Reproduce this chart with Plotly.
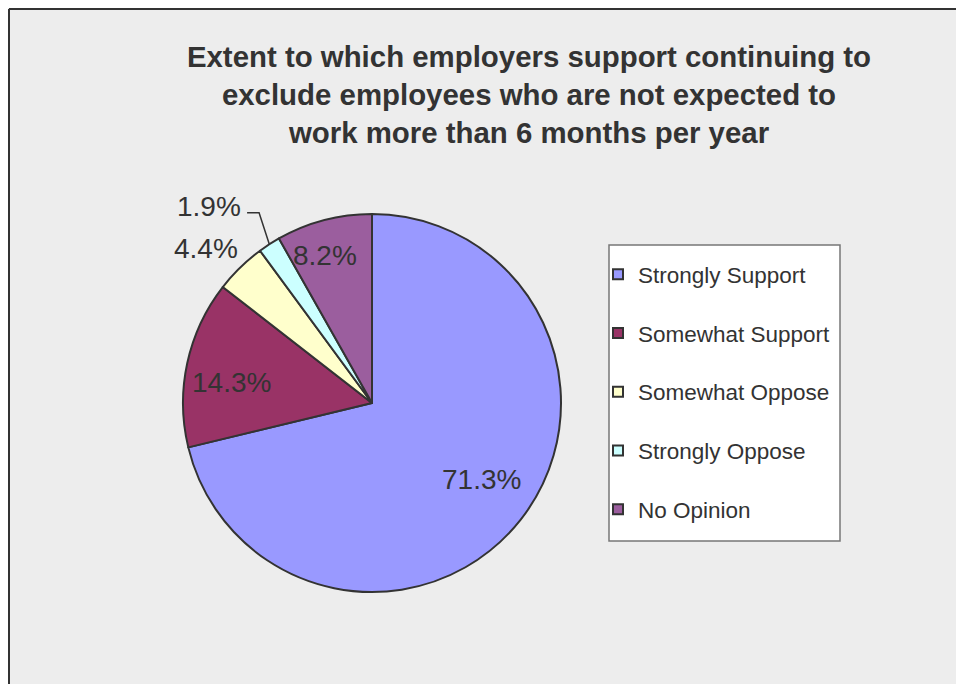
import math
import plotly.graph_objects as go

categories = ["Strongly Support", "Somewhat Support", "Somewhat Oppose", "Strongly Oppose", "No Opinion"]
values = [71.3, 14.3, 4.4, 1.9, 8.2]
colors = ["#9999FF", "#993366", "#FFFFCC", "#CCFFFF", "#9B5E9E"]
title_text = "Extent to which employers support continuing to<br>exclude employees who are not expected to<br>work more than 6 months per year"

# style: label distance from centre (fraction of radius) and angular nudge (deg) per slice
label_k = [0.706, 0.75, 1.20, 1.17, 0.82]
label_dtheta = [-3.0, -4.0, -2.8, 2.2, -2.8]
leader = [False, False, False, True, False]

W, H = 948, 676
cx, cy, r = 364, 395, 189
FONT = "Liberation Sans, Arial"
TXT = "#333333"

fig = go.Figure()
fig.add_trace(go.Pie(
    labels=categories, values=values, textinfo="none",
    sort=False, direction="clockwise", rotation=0,
    marker=dict(colors=colors, line=dict(color="#333333", width=2)),
    showlegend=False, hoverinfo="label+percent",
    domain=dict(x=[(cx - r) / W, (cx + r) / W], y=[(H - cy - r) / H, (H - cy + r) / H]),
))

for cat, col in zip(categories, colors):
    fig.add_trace(go.Scatter(
        x=[None], y=[None], mode="markers", name=cat, legendgroup=cat,
        marker=dict(symbol="square", size=10, color=col, line=dict(color="#333333", width=2)),
    ))

def px(xp):
    return xp / W

def py(yp):
    return 1 - yp / H

# percentage labels placed at each slice's mid-angle (derived from the values)
total = sum(values)
annotations = []
leader_shapes = []
cum = 0.0
for v, k, dth, lead in zip(values, label_k, label_dtheta, leader):
    mid = (cum + v / 2) / total * 2 * math.pi
    cum += v
    ang = mid + math.radians(dth)
    s, c = math.sin(ang), math.cos(ang)
    if not lead:
        annotations.append(dict(
            x=px(cx + k * r * s), y=py(cy - k * r * c), xref="paper", yref="paper",
            text=f"{v:.1f}%", showarrow=False, xanchor="center", yanchor="middle",
            font=dict(family=FONT, size=28, color=TXT)))
    else:
        x0, y0 = cx + r * math.sin(mid), cy - r * math.cos(mid)
        x1, y1 = cx + k * r * s, cy - k * r * c
        x2 = x1 - 12
        leader_shapes.append(dict(type="path", xref="paper", yref="paper",
                                  path=f"M {px(x0)} {py(y0)} L {px(x1)} {py(y1)} L {px(x2)} {py(y1)}",
                                  line=dict(color="#333333", width=1.5)))
        annotations.append(dict(
            x=px(x2 - 4), y=py(y1 - 6), xref="paper", yref="paper",
            text=f"{v:.1f}%", showarrow=False, xanchor="right", yanchor="middle",
            font=dict(family=FONT, size=28, color=TXT)))

shapes = [
    dict(type="rect", xref="paper", yref="paper", x0=px(601), x1=px(832), y0=py(533), y1=py(237),
         fillcolor="white", line=dict(color="#777777", width=1.5), layer="below"),
    dict(type="line", xref="paper", yref="paper", x0=px(1), x1=1.01, y0=py(1), y1=py(1),
         line=dict(color="#333333", width=2)),
    dict(type="line", xref="paper", yref="paper", x0=px(1), x1=px(1), y0=-0.01, y1=py(1),
         line=dict(color="#333333", width=2)),
] + leader_shapes

fig.update_layout(
    width=W, height=H,
    margin=dict(l=0, r=0, t=0, b=0),
    paper_bgcolor="#EDEDED", plot_bgcolor="rgba(0,0,0,0)",
    xaxis=dict(visible=False), yaxis=dict(visible=False),
    title=dict(text=title_text, x=px(521), xanchor="center", y=py(59), yanchor="top",
               font=dict(family=FONT, size=29.4, color=TXT, weight="bold")),
    legend=dict(x=px(590), y=py(245), xanchor="left", yanchor="top",
                bgcolor="rgba(0,0,0,0)", borderwidth=0,
                font=dict(family=FONT, size=22.5, color=TXT),
                tracegroupgap=26.5, itemsizing="trace"),
    shapes=shapes,
    annotations=annotations,
)

fig.write_html(
    "out.html",
    post_script=(
        "document.body.style.margin='8px 0 0 8px';"
        "document.documentElement.style.overflow='hidden';"
        "document.body.style.overflow='hidden';"
    ),
)
